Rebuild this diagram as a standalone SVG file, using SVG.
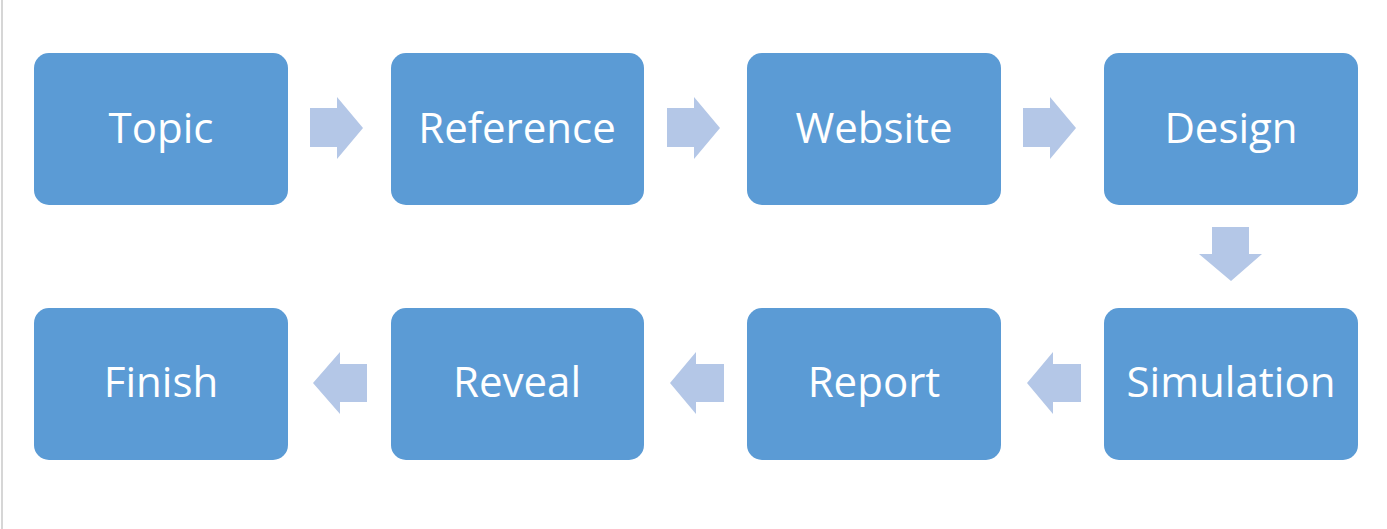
<svg xmlns="http://www.w3.org/2000/svg" width="1387" height="529" viewBox="0 0 1387 529">
<style>
.box{fill:#5B9BD5}
.lbl{font-family:"Open Sans","Noto Sans",sans-serif;font-size:42px;fill:#ffffff;text-anchor:middle}
.arr{fill:#B4C7E7}
</style>
<rect x="0" y="0" width="1387" height="529" fill="#ffffff"/>
<line x1="2" y1="0" x2="2" y2="529" stroke="#c8c8c8" stroke-width="1.5"/>
<g id="connectors">
<polygon class="arr" points="310,108 337,108 337,97 363,128 337,159 337,147 310,147"/>
<polygon class="arr" points="667,108 694,108 694,97 720,128 694,159 694,147 667,147"/>
<polygon class="arr" points="1023,108 1050,108 1050,97 1076,128 1050,159 1050,147 1023,147"/>
<polygon class="arr" points="1212,227 1249,227 1249,254 1262,254 1231,281 1199,254 1212,254"/>
<polygon class="arr" points="1081,364 1053,364 1053,352 1027,383 1053,414 1053,402 1081,402"/>
<polygon class="arr" points="724,364 696,364 696,352 670,383 696,414 696,402 724,402"/>
<polygon class="arr" points="367,364 340,364 340,352 313,383 340,414 340,402 367,402"/>
</g>
<g id="topic"><rect class="box" x="34" y="53" width="254" height="152" rx="15"/><text class="lbl" x="161" y="143">Topic</text></g>
<g id="reference"><rect class="box" x="391" y="53" width="253" height="152" rx="15"/><text class="lbl" x="517" y="143">Reference</text></g>
<g id="website"><rect class="box" x="747" y="53" width="254" height="152" rx="15"/><text class="lbl" x="874" y="143">Website</text></g>
<g id="design"><rect class="box" x="1104" y="53" width="254" height="152" rx="15"/><text class="lbl" x="1231" y="143">Design</text></g>
<g id="simulation"><rect class="box" x="1104" y="308" width="254" height="152" rx="15"/><text class="lbl" x="1231" y="397">Simulation</text></g>
<g id="report"><rect class="box" x="747" y="308" width="254" height="152" rx="15"/><text class="lbl" x="874" y="397">Report</text></g>
<g id="reveal"><rect class="box" x="391" y="308" width="253" height="152" rx="15"/><text class="lbl" x="517" y="397">Reveal</text></g>
<g id="finish"><rect class="box" x="34" y="308" width="254" height="152" rx="15"/><text class="lbl" x="161" y="397">Finish</text></g>
</svg>
